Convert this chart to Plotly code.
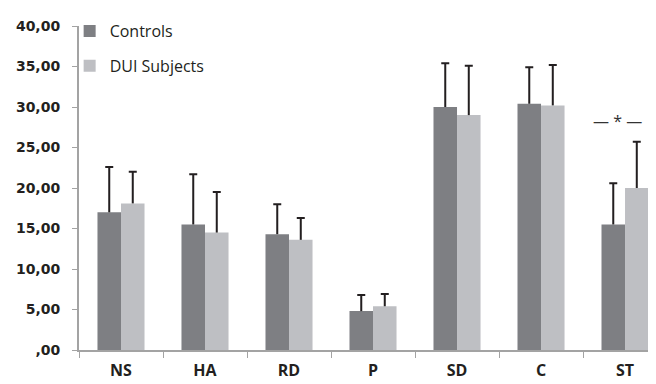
import plotly.graph_objects as go

categories = ["NS", "HA", "RD", "P", "SD", "C", "ST"]
controls_mean = [17.0, 15.5, 14.3, 4.8, 30.0, 30.4, 15.5]
controls_sd = [5.6, 6.2, 3.7, 2.0, 5.4, 4.5, 5.1]
dui_mean = [18.1, 14.5, 13.6, 5.4, 29.0, 30.2, 20.0]
dui_sd = [3.9, 5.0, 2.7, 1.5, 6.1, 5.0, 5.7]
y_tickvals = [0, 5, 10, 15, 20, 25, 30, 35, 40]
y_ticktext = [",00", "5,00", "10,00", "15,00", "20,00", "25,00", "30,00", "35,00", "40,00"]
sig_category = "ST"
sig_label = "— * —"
sig_y = 28.3

C_DARK = "#7e7f83"
C_LIGHT = "#bebfc3"
INK = "#231f20"
AXIS = "#a3a3a3"

fig = go.Figure()
fig.add_trace(go.Bar(x=categories, y=controls_mean, name="Controls",
                     marker=dict(color=C_DARK, line=dict(width=0)),
                     offsetgroup="c", legendgroup="c"))
fig.add_trace(go.Bar(x=categories, y=dui_mean, name="DUI Subjects",
                     marker=dict(color=C_LIGHT, line=dict(width=0)),
                     offsetgroup="d", legendgroup="d"))

# whisker stems (thin bars from mean up to mean+sd) with a cap drawn as zero-length error bar
for means, sds, grp in [(controls_mean, controls_sd, "c"), (dui_mean, dui_sd, "d")]:
    fig.add_trace(go.Bar(x=categories, y=sds, base=means, width=0.024,
                         marker=dict(color=INK, line=dict(width=0)),
                         offsetgroup=grp, showlegend=False, hoverinfo="skip",
                         error_y=dict(type="data", symmetric=False,
                                      array=[0] * len(sds), arrayminus=[0] * len(sds),
                                      color=INK, thickness=2, width=4)))

fig.add_annotation(x=sig_category, y=sig_y, text=sig_label, showarrow=False,
                   xshift=-8, font=dict(family="Open Sans", size=16, color="#333333"))

fig.update_layout(
    width=656, height=384,
    margin=dict(l=71, r=0, t=18, b=42),
    paper_bgcolor="white", plot_bgcolor="white",
    barmode="group", bargap=0.44, bargroupgap=0,
    showlegend=True,
    legend=dict(x=-0.016, y=1.037, xanchor="left", yanchor="top",
                bgcolor="rgba(0,0,0,0)", traceorder="grouped", tracegroupgap=11,
                font=dict(family="Open Sans", size=16, color=INK)),
    xaxis=dict(type="category", range=[-0.5, 6.464], showline=True, linecolor=AXIS,
               linewidth=2, ticks="outside", tickson="boundaries", ticklen=6,
               tickcolor=AXIS, tickwidth=1, showgrid=False, zeroline=False,
               ticklabelstandoff=5,
               tickfont=dict(family="Open Sans", size=16, color=INK, weight="bold")),
    yaxis=dict(range=[0, 40], tickvals=y_tickvals, ticktext=y_ticktext,
               showline=True, linecolor=AXIS, linewidth=2, ticks="outside",
               ticklen=5, tickcolor=AXIS, tickwidth=1, showgrid=False,
               zeroline=False, ticklabelstandoff=9,
               tickfont=dict(family="DejaVu Sans", size=14, color=INK, weight="bold")),
)

fig.write_html("out.html")
